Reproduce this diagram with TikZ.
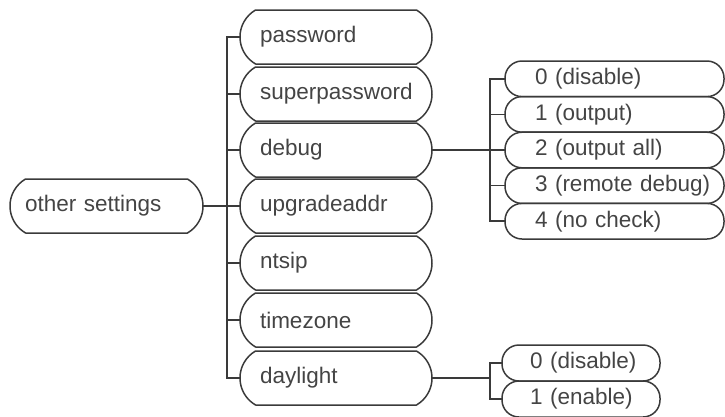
\documentclass[tikz,border=0pt]{standalone}
\usepackage{fontspec}
\setmainfont{Liberation Sans}
\hyphenpenalty=10000
\definecolor{linec}{HTML}{3A3A3A}
\definecolor{textc}{HTML}{444444}
\tikzset{
  box/.style={draw=linec, line width=1.5pt, rounded corners=17pt, text=textc,
    font=\fontsize{22.5}{26}\selectfont, align=left, inner ysep=0pt, inner xsep=4pt,
    minimum height=54pt, outer sep=0pt},
  bigbox/.style={box, draw=none},
  rootbox/.style={bigbox, inner xsep=15pt, text width=163pt},
  childbox/.style={bigbox, inner xsep=20pt, text width=152pt},
  subbox/.style={box, minimum height=35.6pt, text width=211pt,
    execute at begin node={\hspace*{26pt}}},
  dsubbox/.style={box, minimum height=36pt, text width=150pt,
    execute at begin node={\hspace*{24pt}}},
  outline/.style={draw=linec, line width=1.5pt, line join=round},
  conn/.style={draw=linec, line width=1.5pt}
}
\begin{document}
\begin{tikzpicture}[x=1pt, y=-1pt]
\useasboundingbox (0,0) rectangle (725,416);
% root
\node[rootbox] (root) at (106.5,206) {other settings};
% children
\node[childbox] (pw)   at (336,37)  {password};
\node[childbox] (spw)  at (336,94)  {superpassword};
\node[childbox] (dbg)  at (336,150) {debug};
\node[childbox] (upg)  at (336,206) {upgradeaddr};
\node[childbox] (nts)  at (336,263) {ntsip};
\node[childbox] (tz)   at (336,320) {timezone};
\node[childbox] (day)  at (336,378) {daylight};
% outlines of the large boxes (ends are flat circular arcs)
\foreach \n in {root,pw,spw,dbg,upg,nts,tz,day}{
  \draw[outline] ([xshift=15.6pt]\n.north west) -- ([xshift=-15.6pt]\n.north east)
    arc[start angle=60, end angle=-60, radius=31.2pt]
    -- ([xshift=15.6pt]\n.south west)
    arc[start angle=240, end angle=120, radius=31.2pt] -- cycle;
}
% debug options
\node[subbox] (s0) at (614.5,78.8)  {0 (disable)};
\node[subbox] (s1) at (614.5,114.4) {1 (output)};
\node[subbox] (s2) at (614.5,150)   {2 (output all)};
\node[subbox] (s3) at (614.5,185.6) {3 (remote debug)};
\node[subbox] (s4) at (614.5,221.2) {4 (no check)};
% daylight options
\node[dsubbox] (d0) at (581,363) {0 (disable)};
\node[dsubbox] (d1) at (581,399) {1 (enable)};
% root connectors
\draw[conn] (root.east) -- (upg.west);
\draw[conn] (pw.west) -- ++(-13,0) |- (day.west);
\foreach \n in {spw,dbg,upg,nts,tz}{
  \draw[conn] (\n.west) -- ++(-13,0);
}
% debug connectors
\draw[conn] (dbg.east) -- (s2.west);
\draw[conn] (s0.west) -- ++(-15,0) |- (s4.west);
\foreach \n in {s1,s3}{
  \draw[conn] (\n.west) -- ++(-15,0);
}
% daylight connectors
\coordinate (dj) at (490,378);
\draw[conn] (day.east) -- (dj);
\draw[conn] (d0.west) -- ++(-12,0) |- (d1.west);
\end{tikzpicture}
\end{document}
